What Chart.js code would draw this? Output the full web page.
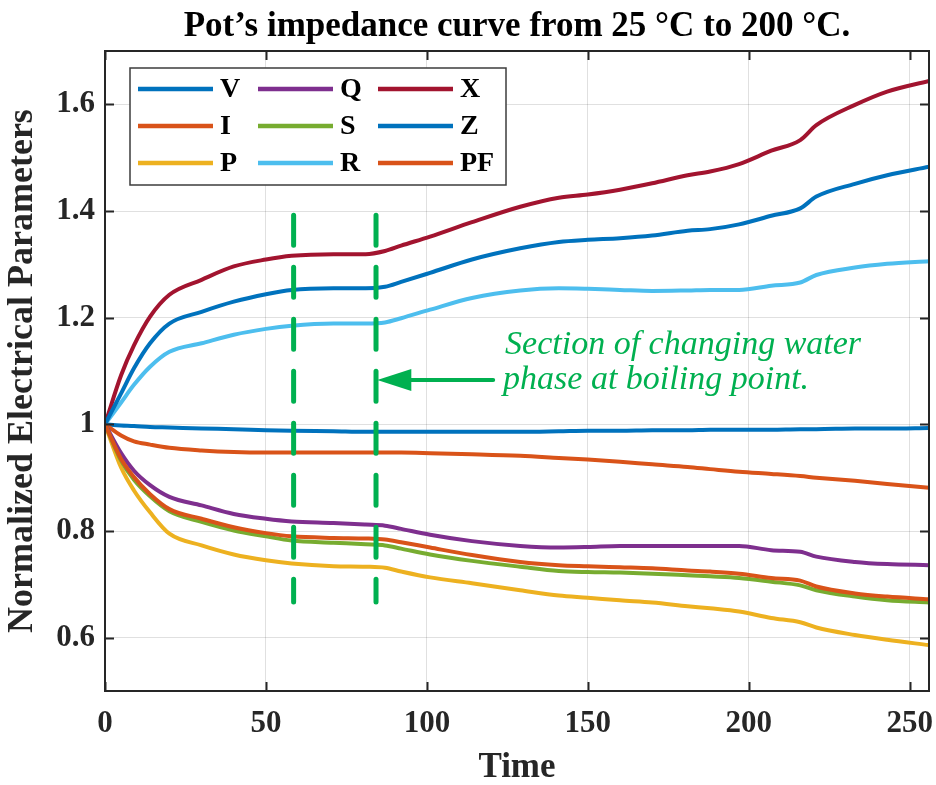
<!DOCTYPE html>
<html>
<head>
<meta charset="utf-8">
<script src="https://cdn.jsdelivr.net/npm/chart.js@4.4.1/dist/chart.umd.min.js"></script>
<style>
  html, body { margin: 0; padding: 0; background: #ffffff; }
  #wrap { width: 936px; height: 785px; }
</style>
</head>
<body>
<div id="wrap"><canvas id="chart" width="936" height="785"></canvas></div>
<script>
// Sample times and normalized electrical quantities of the pot (25 °C → 200 °C)
const timeSec = [0, 5, 9, 14, 20, 30, 40, 50, 58, 71, 81, 87, 92, 101, 114, 129, 141, 150, 160, 170, 181, 188, 197, 207, 216, 221, 233, 243, 256];

const seriesV  = [1.000, 0.998, 0.997, 0.995, 0.994, 0.992, 0.991, 0.989, 0.988, 0.987, 0.986, 0.986, 0.986, 0.986, 0.986, 0.986, 0.987, 0.988, 0.988, 0.989, 0.989, 0.990, 0.990, 0.990, 0.991, 0.991, 0.992, 0.992, 0.993];
const seriesI  = [1.000, 0.979, 0.968, 0.962, 0.956, 0.951, 0.948, 0.947, 0.947, 0.947, 0.947, 0.947, 0.947, 0.946, 0.944, 0.941, 0.937, 0.934, 0.930, 0.925, 0.920, 0.916, 0.911, 0.907, 0.903, 0.900, 0.894, 0.888, 0.881];
const seriesP  = [1.000, 0.919, 0.876, 0.835, 0.795, 0.773, 0.756, 0.745, 0.739, 0.734, 0.733, 0.731, 0.724, 0.713, 0.702, 0.689, 0.679, 0.675, 0.670, 0.666, 0.659, 0.655, 0.649, 0.637, 0.629, 0.619, 0.605, 0.596, 0.586];
const seriesQ  = [1.000, 0.946, 0.913, 0.886, 0.864, 0.848, 0.832, 0.823, 0.818, 0.815, 0.812, 0.810, 0.804, 0.793, 0.781, 0.772, 0.769, 0.770, 0.772, 0.772, 0.772, 0.772, 0.772, 0.764, 0.761, 0.752, 0.742, 0.738, 0.736];
const seriesS  = [1.000, 0.932, 0.896, 0.865, 0.837, 0.817, 0.801, 0.790, 0.782, 0.778, 0.775, 0.773, 0.767, 0.756, 0.744, 0.733, 0.725, 0.723, 0.722, 0.720, 0.717, 0.715, 0.712, 0.705, 0.698, 0.689, 0.677, 0.670, 0.666];
const seriesR  = [1.000, 1.041, 1.074, 1.108, 1.136, 1.152, 1.168, 1.179, 1.185, 1.189, 1.189, 1.191, 1.199, 1.215, 1.237, 1.251, 1.255, 1.254, 1.252, 1.250, 1.251, 1.252, 1.252, 1.260, 1.266, 1.280, 1.294, 1.301, 1.306];
const seriesX  = [1.000, 1.092, 1.148, 1.202, 1.243, 1.271, 1.296, 1.309, 1.316, 1.319, 1.319, 1.325, 1.335, 1.352, 1.379, 1.408, 1.425, 1.431, 1.440, 1.452, 1.467, 1.474, 1.488, 1.513, 1.533, 1.561, 1.599, 1.624, 1.644];
const seriesZ  = [1.000, 1.058, 1.105, 1.152, 1.189, 1.211, 1.230, 1.244, 1.252, 1.255, 1.255, 1.258, 1.267, 1.284, 1.309, 1.330, 1.342, 1.346, 1.349, 1.354, 1.363, 1.366, 1.375, 1.391, 1.405, 1.427, 1.451, 1.467, 1.483];
const seriesPF = [1.000, 0.935, 0.901, 0.869, 0.841, 0.823, 0.807, 0.796, 0.790, 0.787, 0.786, 0.784, 0.779, 0.769, 0.755, 0.742, 0.736, 0.734, 0.732, 0.730, 0.726, 0.724, 0.720, 0.712, 0.707, 0.696, 0.683, 0.677, 0.672];

const seriesNames = ['V', 'I', 'P', 'Q', 'S', 'R', 'X', 'Z', 'PF'];
const seriesColors = ['#0072BD', '#D95319', '#EDB120', '#7E2F8E', '#77AC30', '#4DBEEE', '#A2142F', '#0072BD', '#D95319'];
const seriesValues = [seriesV, seriesI, seriesP, seriesQ, seriesS, seriesR, seriesX, seriesZ, seriesPF];

// Axis ticks and limits
const xTicks = [0, 50, 100, 150, 200, 250];
const yTicks = [0.6, 0.8, 1.0, 1.2, 1.4, 1.6];
const xLimits = [0, 256];
const yLimits = [0.5, 1.7];

// Boiling section markers and annotation
const boilingBounds = [58.6, 84.2];
const markerRange = [0.667, 1.392];
const arrowTail = [120.6, 1.083];
const arrowTip = [84.6, 1.083];
const noteAnchor = [124.3, 1.131];
const noteLines = ['Section of changing water', 'phase at boiling point.'];

const chartTitle = 'Pot\u2019s impedance curve from 25 \u00B0C to 200 \u00B0C.';
const xTitle = 'Time';
const yTitle = 'Normalized Electrical Parameters';

const SERIF = "'Liberation Serif', 'Times New Roman', serif";
const GREEN = '#00B050';
const INK = '#262626';

const datasets = seriesNames.map((name, i) => ({
  label: name,
  data: timeSec.map((t, k) => ({ x: t, y: seriesValues[i][k] })),
  borderColor: seriesColors[i],
  backgroundColor: seriesColors[i],
  borderWidth: 4,
  pointRadius: 0,
  cubicInterpolationMode: 'monotone',
  order: seriesNames.length - i,
  inLegend: true
}));

boilingBounds.forEach(t => {
  datasets.push({
    label: '',
    data: [{ x: t, y: markerRange[1] }, { x: t, y: markerRange[0] }],
    borderColor: GREEN,
    borderWidth: 5,
    borderDash: [30, 22],
    borderCapStyle: 'round',
    pointRadius: 0,
    order: 0,
    inLegend: false
  });
});

// Title, full axes box with inward ticks, arrow, note and legend
const decorPlugin = {
  id: 'decor',
  afterDraw(chart) {
    const { ctx, chartArea: a, scales } = chart;
    const xs = scales.x, ys = scales.y;
    ctx.save();

    // title
    ctx.fillStyle = '#000';
    ctx.font = `bold 35px ${SERIF}`;
    ctx.textAlign = 'center';
    ctx.textBaseline = 'alphabetic';
    ctx.fillText(chartTitle, (a.left + a.right) / 2, 36);

    // box
    ctx.strokeStyle = INK;
    ctx.lineWidth = 2;
    ctx.strokeRect(a.left, a.top, a.right - a.left, a.bottom - a.top);

    // inward ticks
    const tl = 9;
    ctx.beginPath();
    xTicks.forEach(v => {
      const px = Math.round(xs.getPixelForValue(v)) + 0.5;
      ctx.moveTo(px, a.bottom); ctx.lineTo(px, a.bottom - tl);
      ctx.moveTo(px, a.top); ctx.lineTo(px, a.top + tl);
    });
    yTicks.forEach(v => {
      const py = Math.round(ys.getPixelForValue(v)) + 0.5;
      ctx.moveTo(a.left, py); ctx.lineTo(a.left + tl, py);
      ctx.moveTo(a.right, py); ctx.lineTo(a.right - tl, py);
    });
    ctx.stroke();

    // arrow pointing at the end of the boiling section
    const tx = xs.getPixelForValue(arrowTip[0]), ty = ys.getPixelForValue(arrowTip[1]);
    const sx = xs.getPixelForValue(arrowTail[0]);
    const headLen = 34, headHalf = 11;
    ctx.strokeStyle = GREEN;
    ctx.fillStyle = GREEN;
    ctx.lineWidth = 4;
    ctx.lineCap = 'round';
    ctx.beginPath();
    ctx.moveTo(sx, ty); ctx.lineTo(tx + headLen - 2, ty);
    ctx.stroke();
    ctx.beginPath();
    ctx.moveTo(tx, ty);
    ctx.lineTo(tx + headLen, ty - headHalf);
    ctx.lineTo(tx + headLen, ty + headHalf);
    ctx.closePath();
    ctx.fill();

    // note text
    ctx.font = `italic 34px ${SERIF}`;
    ctx.textAlign = 'left';
    ctx.textBaseline = 'alphabetic';
    const nx = xs.getPixelForValue(noteAnchor[0]);
    const ny = ys.getPixelForValue(noteAnchor[1]);
    noteLines.forEach((line, i) => ctx.fillText(line, nx - (i ? 2 : 0), ny + i * 35));

    // legend (3 rows, filled column by column)
    const lx = a.left + 25, ly = a.top + 17, lw = 376, lh = 117;
    ctx.fillStyle = '#fff';
    ctx.fillRect(lx, ly, lw, lh);
    ctx.strokeStyle = '#3c3c3c';
    ctx.lineWidth = 1.5;
    ctx.strokeRect(lx, ly, lw, lh);
    ctx.font = `bold 28px ${SERIF}`;
    ctx.textBaseline = 'middle';
    ctx.lineCap = 'butt';
    const items = chart.data.datasets.filter(d => d.inLegend);
    items.forEach((d, i) => {
      const col = Math.floor(i / 3), row = i % 3;
      const x0 = lx + 8 + col * 120;
      const y0 = ly + 21 + row * 37;
      ctx.strokeStyle = d.borderColor;
      ctx.lineWidth = 4.5;
      ctx.beginPath();
      ctx.moveTo(x0, y0); ctx.lineTo(x0 + 75, y0);
      ctx.stroke();
      ctx.fillStyle = '#000';
      ctx.fillText(d.label, x0 + 82, y0 + 1);
    });

    ctx.restore();
  }
};

new Chart(document.getElementById('chart'), {
  type: 'line',
  data: { datasets },
  options: {
    responsive: false,
    animation: false,
    devicePixelRatio: 1,
    layout: { padding: { top: 51, right: 7, left: 0, bottom: 0 } },
    plugins: {
      legend: { display: false },
      tooltip: { enabled: false },
      title: { display: false }
    },
    elements: { line: { tension: 0 } },
    scales: {
      x: {
        type: 'linear',
        min: xLimits[0],
        max: xLimits[1],
        afterBuildTicks: s => { s.ticks = xTicks.map(v => ({ value: v })); },
        afterFit: s => { s.height = 94; s.paddingLeft = 0; s.paddingRight = 0; },
        grid: { color: 'rgba(0,0,0,0.12)', lineWidth: 1, drawTicks: false },
        border: { display: false },
        ticks: {
          padding: 14,
          color: INK,
          font: { family: SERIF, size: 31, weight: 'bold' },
          maxRotation: 0,
          callback: v => String(v)
        },
        title: {
          display: true,
          text: xTitle,
          color: INK,
          font: { family: SERIF, size: 35, weight: 'bold', lineHeight: 1 },
          padding: { top: 0, bottom: 0 }
        }
      },
      y: {
        type: 'linear',
        min: yLimits[0],
        max: yLimits[1],
        afterBuildTicks: s => { s.ticks = yTicks.map(v => ({ value: v })); },
        afterFit: s => { s.width = 105; s.paddingTop = 0; s.paddingBottom = 0; },
        grid: { color: 'rgba(0,0,0,0.12)', lineWidth: 1, drawTicks: false },
        border: { display: false },
        ticks: {
          padding: 10,
          color: INK,
          font: { family: SERIF, size: 31, weight: 'bold' },
          callback: v => String(Number(v.toFixed(1)))
        },
        title: {
          display: true,
          text: yTitle,
          color: INK,
          font: { family: SERIF, size: 36, weight: 'bold', lineHeight: 1 },
          padding: { top: 5, bottom: 0 }
        }
      }
    }
  },
  plugins: [decorPlugin]
});
</script>
</body>
</html>
